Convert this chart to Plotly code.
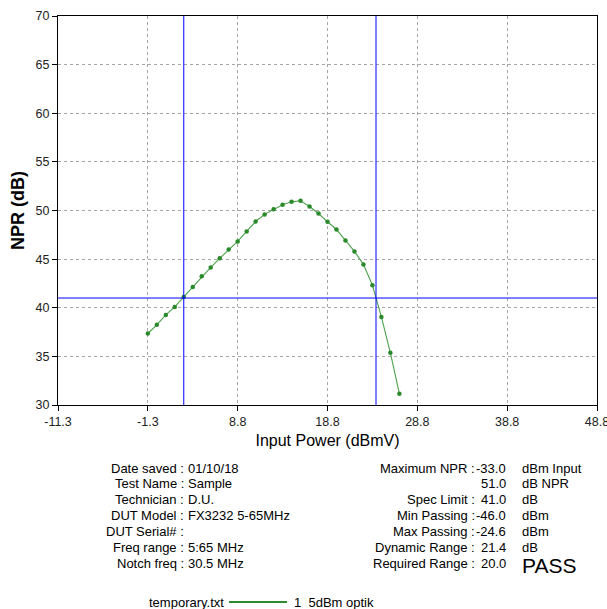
import plotly.graph_objects as go

# ---------------- data ----------------
input_power_dbmv = [-1.25, -0.25, 0.75, 1.75, 2.75, 3.75, 4.75, 5.75, 6.75, 7.75,
                    8.75, 9.75, 10.75, 11.75, 12.75, 13.75, 14.75, 15.75, 16.75, 17.75,
                    18.75, 19.75, 20.75, 21.75, 22.75, 23.75, 24.75, 25.75, 26.75]
npr_db = [37.35, 38.24, 39.26, 40.08, 41.11, 42.13, 43.23, 44.15, 45.08, 46.0,
          46.82, 47.85, 48.87, 49.6, 50.13, 50.6, 50.89, 51.0, 50.41, 49.69,
          48.84, 48.05, 46.92, 45.79, 44.46, 42.31, 39.06, 35.37, 31.16]

spec_limit_db = 41.0
min_passing_dbmv = 2.75
max_passing_dbmv = 24.15

x_tickvals = [-11.25, -1.25, 8.75, 18.75, 28.75, 38.75, 48.75]
x_ticktext = ["-11.3", "-1.3", "8.8", "18.8", "28.8", "38.8", "48.8"]
y_tickvals = [30, 35, 40, 45, 50, 55, 60, 65, 70]

left_labels = ["Date saved", "Test Name", "Technician", "DUT Model", "DUT Serial#",
               "Freq range", "Notch freq"]
left_values = ["01/10/18", "Sample", "D.U.", "FX3232 5-65MHz", "", "5:65 MHz", "30.5 MHz"]
right_labels = ["Maximum NPR", "", "Spec Limit", "Min Passing", "Max Passing",
                "Dynamic Range", "Required Range"]
right_values = ["-33.0", "51.0", "41.0", "-46.0", "-24.6", "21.4", "20.0"]
right_units = ["dBm Input", "dB NPR", "dB", "dBm", "dBm", "dB", ""]
verdict = "PASS"

legend_title = "temporary.txt"
series_name = "1_5dBm optik"

# ---------------- layout helpers ----------------
W, H = 607, 609
L, R, T, B = 58, 10, 16, 204
PW, PH = W - L - R, H - T - B
FONT = "Liberation Sans, Arial, sans-serif"
GREEN_LINE = "#4ea24e"
GREEN_MARK = "#2a8a2a"


def pxx(x):
    return (x - L) / PW


def pxy(y):
    return (T + PH - y) / PH


fig = go.Figure()
fig.add_trace(go.Scatter(
    x=input_power_dbmv, y=npr_db, mode="lines+markers", name=series_name,
    line=dict(color=GREEN_LINE, width=1.1),
    marker=dict(color=GREEN_MARK, size=4.5, symbol="circle"),
    showlegend=False,
))

shapes = [
    dict(type="line", xref="x", yref="paper", x0=min_passing_dbmv, x1=min_passing_dbmv,
         y0=0, y1=1, line=dict(color="#0000ff", width=1)),
    dict(type="line", xref="x", yref="paper", x0=max_passing_dbmv, x1=max_passing_dbmv,
         y0=0, y1=1, line=dict(color="#0000ff", width=1)),
    dict(type="line", xref="paper", yref="y", x0=0, x1=1, y0=spec_limit_db, y1=spec_limit_db,
         line=dict(color="#0000ff", width=1)),
]

annotations = []
row_y = [468 + 15.9 * i for i in range(7)]
txt_font = dict(family=FONT, size=13, color="#000000")


def ann(x, y, text, anchor, font=txt_font):
    return dict(xref="paper", yref="paper", x=pxx(x), y=pxy(y), text=text,
                showarrow=False, xanchor=anchor, yanchor="middle", font=font,
                borderpad=0, borderwidth=0)


for i in range(7):
    annotations.append(ann(184, row_y[i], left_labels[i] + " :", "right"))
    if left_values[i]:
        annotations.append(ann(188, row_y[i], left_values[i], "left"))
    if right_labels[i]:
        annotations.append(ann(475, row_y[i], right_labels[i] + " :", "right"))
    annotations.append(ann(506, row_y[i], right_values[i], "right"))
    if right_units[i]:
        annotations.append(ann(522, row_y[i], right_units[i], "left"))

annotations.append(ann(522, 565, verdict, "left",
                       font=dict(family=FONT, size=21, color="#000000")))

# legend (drawn manually)
annotations.append(ann(224, 602, legend_title, "right"))
shapes.append(dict(type="line", xref="paper", yref="paper", x0=pxx(229), x1=pxx(287),
                   y0=pxy(602), y1=pxy(602), line=dict(color="#2e8b2e", width=2)))
annotations.append(ann(294, 602, series_name, "left"))

axis_common = dict(
    showline=True, linecolor="#000000", linewidth=1, mirror=True,
    ticks="outside", ticklen=5, tickcolor="#000000", tickwidth=1,
    showgrid=True, gridcolor="#a6a6a6", gridwidth=1, griddash="3px,3px",
    zeroline=False, automargin=False, ticklabeloverflow="allow",
    tickfont=dict(family=FONT, size=12.5, color="#222222"),
)

fig.update_layout(
    width=W, height=H,
    margin=dict(l=L, r=R, t=T, b=B, pad=0, autoexpand=False),
    paper_bgcolor="#ffffff", plot_bgcolor="#ffffff",
    font=dict(family=FONT, color="#000000"),
    xaxis=dict(range=[-11.25, 48.75], tickmode="array", tickvals=x_tickvals,
               ticktext=x_ticktext,
               title=dict(text="Input Power (dBmV)", font=dict(family=FONT, size=16),
                          standoff=6),
               **axis_common),
    yaxis=dict(range=[30, 70], tickmode="array", tickvals=y_tickvals,
               title=dict(text="<b>NPR (dB)</b>", font=dict(family=FONT, size=18),
                          standoff=6),
               **axis_common),
    shapes=shapes,
    annotations=annotations,
    showlegend=False,
)

fig.write_html("out.html", config={"displayModeBar": False},
               post_script="document.body.style.margin='0';document.body.style.padding='0';")
